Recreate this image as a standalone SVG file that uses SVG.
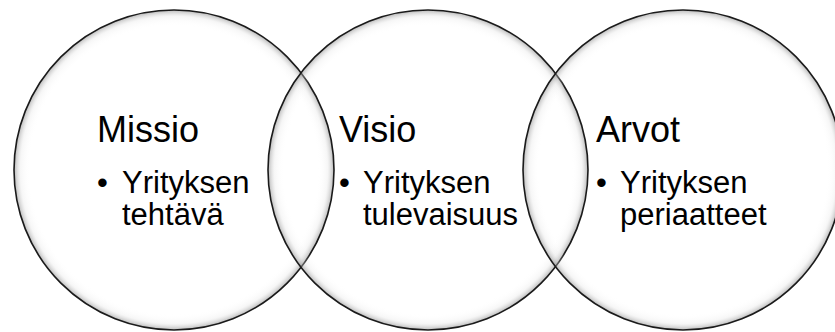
<svg xmlns="http://www.w3.org/2000/svg" width="835" height="332" viewBox="0 0 835 332">
  <defs>
    <radialGradient id="glow" cx="50%" cy="50%" r="50%">
      <stop offset="0%" stop-color="#ffffff" stop-opacity="0"/>
      <stop offset="90%" stop-color="#ffffff" stop-opacity="0"/>
      <stop offset="96%" stop-color="#dddddd" stop-opacity="0.25"/>
      <stop offset="100%" stop-color="#888888" stop-opacity="0.6"/>
    </radialGradient>
  </defs>
  <style>
    .circle { fill: url(#glow); stroke: #1a1a1a; stroke-width: 1.6; }
    .title { font-family: "Liberation Sans", Arial, sans-serif; font-size: 36px; fill: #000000; }
    .item { font-family: "Liberation Sans", Arial, sans-serif; font-size: 31px; fill: #000000; }
  </style>
  <rect x="0" y="0" width="835" height="332" fill="#ffffff"/>
  <g id="node-missio">
    <circle class="circle" cx="174" cy="170" r="160"/>
    <text class="title" x="97" y="142">Missio</text>
    <text class="item" x="97" y="193">•</text>
    <text class="item" x="122" y="193">Yrityksen</text>
    <text class="item" x="122" y="225">tehtävä</text>
  </g>
  <g id="node-visio">
    <circle class="circle" cx="428" cy="170" r="160"/>
    <text class="title" x="339" y="142">Visio</text>
    <text class="item" x="339" y="193">•</text>
    <text class="item" x="363" y="193">Yrityksen</text>
    <text class="item" x="363" y="225">tulevaisuus</text>
  </g>
  <g id="node-arvot">
    <circle class="circle" cx="683" cy="170" r="160"/>
    <text class="title" x="596" y="142">Arvot</text>
    <text class="item" x="596" y="193">•</text>
    <text class="item" x="620" y="193">Yrityksen</text>
    <text class="item" x="620" y="225">periaatteet</text>
  </g>
  <g id="connectors"/>
</svg>
